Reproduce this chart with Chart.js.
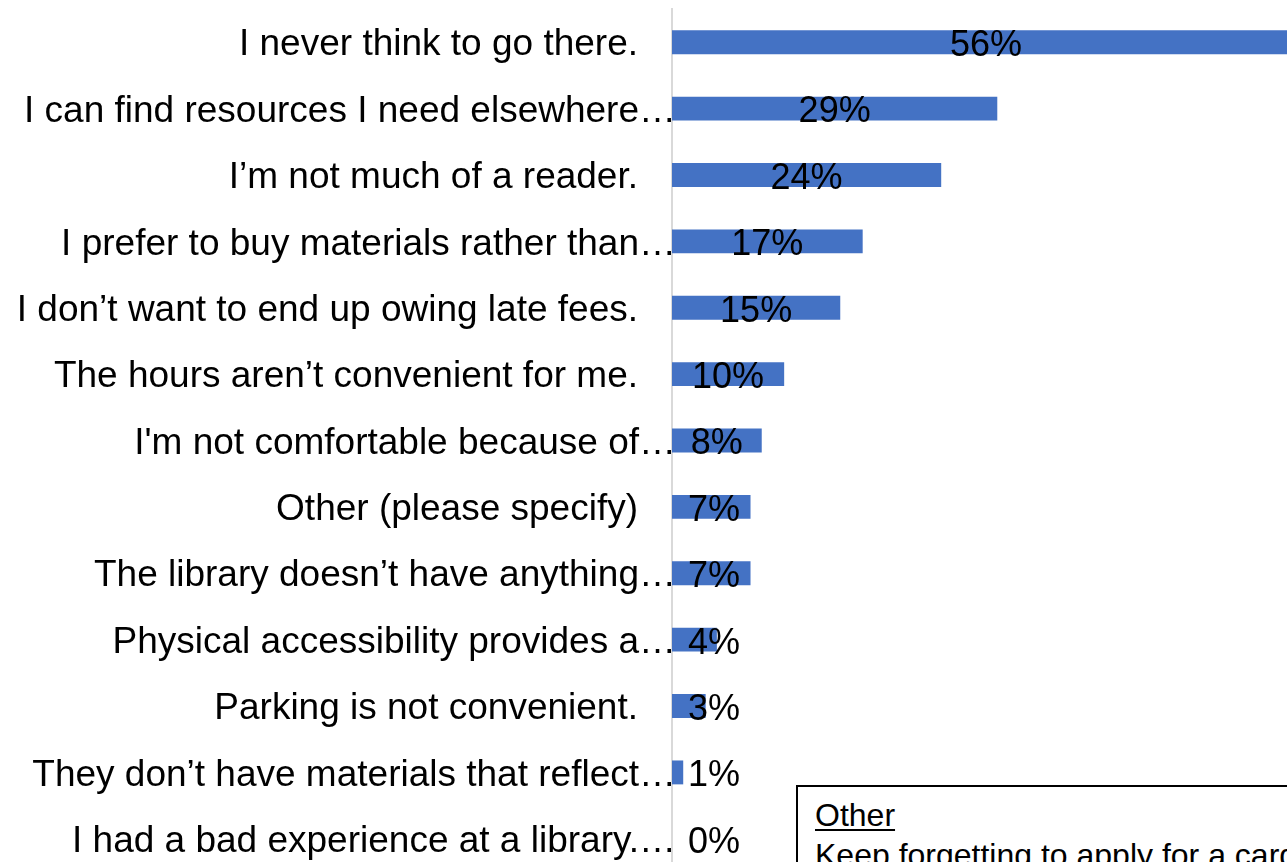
<!DOCTYPE html>
<html>
<head>
<meta charset="utf-8">
<title>Why don't you use the library?</title>
<script src="https://cdn.jsdelivr.net/npm/chart.js"></script>
<style>
  html, body { margin: 0; padding: 0; background: #fff; overflow: hidden; }
  #wrap { position: relative; width: 1287px; height: 862px; overflow: hidden; }
  #chart { position: absolute; left: 0; top: 0; }
  #note {
    position: absolute; left: 796px; top: 785px; width: 600px; height: 200px;
    border: 2px solid #000; padding: 8px 0 0 17px; box-sizing: border-box;
    font-family: "Liberation Sans", Arial, sans-serif; font-size: 32px; line-height: 40px; color: #000;
    white-space: nowrap; background: #fff;
  }
  #note u { text-decoration-thickness: 2px; text-underline-offset: 3px; }
</style>
</head>
<body>
<div id="wrap">
  <canvas id="chart" width="1345" height="880"></canvas>
  <div id="note"><u>Other</u><br>Keep forgetting to apply for a card</div>
</div>
<script>
// reasons, in the order they are listed
const reasons = [
  "I never think to go there.",
  "I can find resources I need elsewhere…",
  "I’m not much of a reader.",
  "I prefer to buy materials rather than…",
  "I don’t want to end up owing late fees.",
  "The hours aren’t convenient for me.",
  "I'm not comfortable because of…",
  "Other (please specify)",
  "The library doesn’t have anything…",
  "Physical accessibility provides a…",
  "Parking is not convenient.",
  "They don’t have materials that reflect…",
  "I had a bad experience at a library.…"
];
const percents = [56, 29, 24, 17, 15, 10, 8, 7, 7, 4, 3, 1, 0];

const FONT = '"Liberation Sans", Arial, sans-serif';

// category labels: cut-off ones run right up to the axis, the others stop short of it
const categoryLabels = {
  id: "categoryLabels",
  afterDraw(chart) {
    const ctx = chart.ctx;
    const y = chart.scales.y;
    ctx.save();
    ctx.font = "37px " + FONT;
    ctx.fillStyle = "#000";
    ctx.textAlign = "right";
    ctx.textBaseline = "middle";
    reasons.forEach((txt, i) => {
      const end = txt.endsWith("…") ? 676 : 638;
      ctx.fillText(txt, end, y.getPixelForTick(i) + 3);
    });
    ctx.restore();
  }
};

// percentage in the middle of each bar, pushed right when the bar is too short
const valueLabels = {
  id: "valueLabels",
  afterDatasetsDraw(chart) {
    const ctx = chart.ctx;
    const meta = chart.getDatasetMeta(0);
    const left = chart.chartArea.left;
    ctx.save();
    ctx.font = "36px " + FONT;
    ctx.fillStyle = "#000";
    ctx.textAlign = "center";
    ctx.textBaseline = "middle";
    meta.data.forEach((bar, i) => {
      const txt = percents[i] + "%";
      const w = ctx.measureText(txt).width;
      const x = Math.max((bar.base + bar.x) / 2, left + 16 + w / 2);
      ctx.fillText(txt, x, bar.y + 4);
    });
    ctx.restore();
  }
};

new Chart(document.getElementById("chart"), {
  type: "bar",
  data: {
    labels: reasons,
    datasets: [{
      data: percents,
      backgroundColor: "#4472C4",
      borderWidth: 0,
      barPercentage: 0.36,
      categoryPercentage: 1
    }]
  },
  options: {
    indexAxis: "y",
    responsive: false,
    animation: false,
    events: [],
    layout: { padding: { top: 9, bottom: 8, left: 0, right: 0 } },
    plugins: { legend: { display: false }, tooltip: { enabled: false } },
    scales: {
      x: { display: false, min: 0, max: 60 },
      y: {
        grid: { display: false, drawTicks: false },
        border: { display: true, color: "#d9d9d9", width: 2 },
        ticks: { display: false },
        afterFit(scale) { scale.width = 672; }
      }
    }
  },
  plugins: [categoryLabels, valueLabels]
});
</script>
</body>
</html>
